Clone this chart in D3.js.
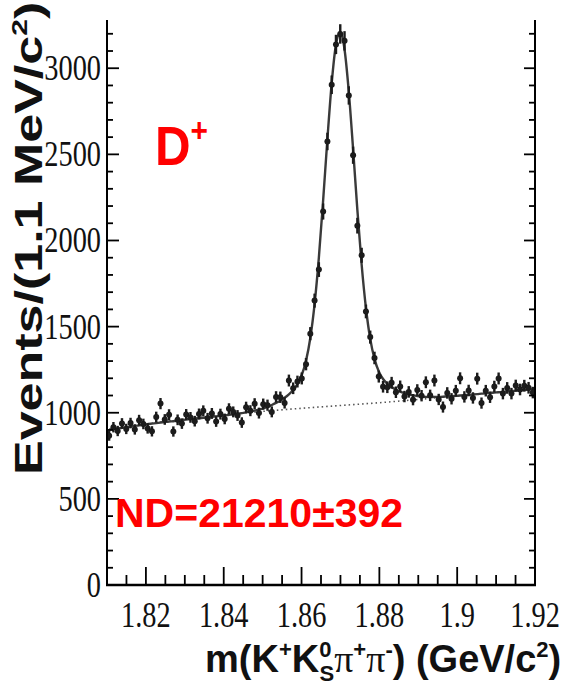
<!DOCTYPE html>
<html>
<head>
<meta charset="utf-8">
<script src="https://cdn.jsdelivr.net/npm/d3@7"></script>
<style>
  body { margin: 0; background: #ffffff; }
  svg { display: block; }
</style>
</head>
<body>
<div id="chart"></div>
<script>
// histogram binning (1.1 MeV bins from 1.81 GeV)
var xLow = 1.81;
var binWidth = 0.0011;

// events per bin
var counts = [
  867, 916, 894, 938, 906, 940, 903, 957, 935, 909,
  892, 975, 1053, 961, 989, 891, 959, 937, 990, 973,
  951, 993, 1011, 968, 996, 949, 992, 964, 1023, 1005,
  984, 943, 1032, 1012, 1052, 998, 1050, 1044, 1005, 1092,
  1090, 1057, 1187, 1142, 1181, 1199, 1282, 1459, 1651, 1831,
  2168, 2575, 2904, 3138, 3199, 3159, 2842, 2495, 2086, 1914,
  1588, 1439, 1318, 1210, 1151, 1148, 1174, 1119, 1153, 1094,
  1121, 1076, 1132, 1099, 1177, 1101, 1187, 1077, 1033, 1115,
  1081, 1128, 1200, 1092, 1129, 1086, 1198, 1056, 1128, 1090,
  1152, 1199, 1111, 1144, 1111, 1158, 1135, 1157, 1145, 1117
];

// total fit value at each bin centre
var fitTotal = [
  902, 906, 909, 913, 916, 920, 923, 927, 930, 934,
  937, 940, 943, 946, 949, 951, 954, 957, 960, 963,
  966, 968, 971, 973, 976, 979, 982, 984, 988, 990,
  994, 998, 1002, 1007, 1012, 1018, 1025, 1034, 1045, 1057,
  1070, 1087, 1107, 1132, 1166, 1219, 1302, 1434, 1631, 1901,
  2233, 2590, 2914, 3138, 3209, 3109, 2862, 2530, 2176, 1859,
  1608, 1429, 1313, 1240, 1196, 1168, 1149, 1134, 1123, 1114,
  1106, 1101, 1097, 1094, 1092, 1091, 1092, 1092, 1093, 1095,
  1096, 1098, 1100, 1102, 1104, 1106, 1108, 1111, 1113, 1115,
  1117, 1119, 1121, 1124, 1126, 1128, 1130, 1132, 1135, 1137
];

// background component (dotted)
var bgMass = [1.81, 1.82, 1.83, 1.84, 1.85, 1.86, 1.87, 1.88, 1.89, 1.90, 1.91, 1.92];
var bgValue = [900, 935, 963, 988, 1008, 1026, 1042, 1058, 1077, 1098, 1118, 1138];

// axis ticks
var xTickValues = [1.82, 1.84, 1.86, 1.88, 1.90, 1.92];
var xTickLabels = ["1.82", "1.84", "1.86", "1.88", "1.9", "1.92"];
var yTickValues = [0, 500, 1000, 1500, 2000, 2500, 3000];

document.addEventListener("DOMContentLoaded", function() {
    var width = 563, height = 692;
    var left = 107, right = 535, top = 20, bottom = 585;

    var svg = d3.select("#chart").append("svg")
        .attr("width", width)
        .attr("height", height);

    // soft blur so the points look like the scanned plot
    var defs = svg.append("defs");
    defs.append("filter").attr("id", "soft")
        .append("feGaussianBlur").attr("stdDeviation", 0.7);

    var x = d3.scaleLinear().domain([1.81, 1.92]).range([left, right]);
    var y = d3.scaleLinear().domain([0, 3280]).range([bottom, top]);

    var bins = counts.map(function(c, i) {
        return { x: xLow + binWidth * (i + 0.5), n: c, fit: fitTotal[i] };
    });

    // background - dotted
    var bg = bgMass.map(function(m, i) { return { x: m, v: bgValue[i] }; });
    svg.append("path")
        .datum(bg)
        .attr("d", d3.line().x(function(d) { return x(d.x); }).y(function(d) { return y(d.v); }))
        .style("fill", "none")
        .style("stroke", "#555")
        .style("stroke-width", 1.6)
        .style("stroke-dasharray", "1.5,3");

    // fit curve
    svg.append("path")
        .datum(bins)
        .attr("d", d3.line()
            .curve(d3.curveMonotoneX)
            .x(function(d) { return x(d.x); })
            .y(function(d) { return y(d.fit); }))
        .style("fill", "none")
        .style("stroke", "#3a3a3a")
        .style("stroke-width", 2.4);

    // data points with error bars
    var pts = svg.append("g").attr("class", "points").attr("filter", "url(#soft)");
    pts.selectAll(".ev")
        .data(bins)
        .enter()
        .append("line")
        .attr("x1", function(d) { return x(d.x); })
        .attr("x2", function(d) { return x(d.x); })
        .attr("y1", function(d) { return y(d.n - Math.sqrt(d.n)); })
        .attr("y2", function(d) { return y(d.n + Math.sqrt(d.n)); })
        .style("stroke", "#1a1a1a")
        .style("stroke-width", 2.4);
    pts.selectAll(".eh")
        .data(bins)
        .enter()
        .append("line")
        .attr("x1", function(d) { return x(d.x - binWidth / 2); })
        .attr("x2", function(d) { return x(d.x + binWidth / 2); })
        .attr("y1", function(d) { return y(d.n); })
        .attr("y2", function(d) { return y(d.n); })
        .style("stroke", "#1a1a1a")
        .style("stroke-width", 2);
    pts.selectAll("circle")
        .data(bins)
        .enter()
        .append("circle")
        .attr("cx", function(d) { return x(d.x); })
        .attr("cy", function(d) { return y(d.n); })
        .attr("r", 3)
        .style("fill", "#1a1a1a");

    // axes lines
    var axisG = svg.append("g").style("stroke", "#000");
    axisG.append("line").attr("x1", left).attr("x2", left).attr("y1", top).attr("y2", bottom + 1).style("stroke-width", 2);
    axisG.append("line").attr("x1", right).attr("x2", right).attr("y1", top).attr("y2", bottom + 1).style("stroke-width", 2);
    axisG.append("line").attr("x1", left - 1).attr("x2", right + 1).attr("y1", bottom).attr("y2", bottom).style("stroke-width", 2.4);

    // y ticks: major every 500, minor every 100 (left and right, pointing in)
    var yMinor = d3.range(0, 3201, 100);
    yMinor.forEach(function(v) {
        var major = v % 500 === 0;
        var len = major ? 12 : 6;
        axisG.append("line").attr("x1", left).attr("x2", left + len)
            .attr("y1", y(v)).attr("y2", y(v)).style("stroke-width", 1.8);
        axisG.append("line").attr("x1", right).attr("x2", right - (major ? 11 : 6))
            .attr("y1", y(v)).attr("y2", y(v)).style("stroke-width", 1.8);
    });

    // x ticks: major every 0.02, minor every 0.005
    var xMinor = d3.range(0, 23).map(function(k) { return 1.81 + 0.005 * k; });
    xMinor.forEach(function(v) {
        var major = xTickValues.some(function(t) { return Math.abs(t - v) < 1e-6; });
        axisG.append("line").attr("x1", x(v)).attr("x2", x(v))
            .attr("y1", bottom).attr("y2", bottom - (major ? 18 : 10))
            .style("stroke-width", 1.8);
    });

    // tick labels (serif, narrow)
    var font = "'Liberation Serif', 'Times New Roman', serif";
    svg.selectAll(".ylab")
        .data(yTickValues)
        .enter()
        .append("text")
        .attr("transform", function(d) { return "translate(101," + (y(d) + 12) + ") scale(0.81,1)"; })
        .attr("text-anchor", "end")
        .style("font-family", font)
        .style("font-size", "35px")
        .style("fill", "#111")
        .text(function(d) { return d; });

    svg.selectAll(".xlab")
        .data(xTickValues)
        .enter()
        .append("text")
        .attr("transform", function(d) { return "translate(" + x(d) + ",627) scale(0.81,1)"; })
        .attr("text-anchor", "middle")
        .style("font-family", font)
        .style("font-size", "35px")
        .style("fill", "#111")
        .text(function(d, i) { return xTickLabels[i]; });

    var sans = "'Liberation Sans', Arial, Helvetica, sans-serif";

    // y axis title
    var yt = svg.append("text")
        .attr("transform", "translate(42,475) rotate(-90) scale(1,0.73)")
        .style("font-family", sans)
        .style("font-weight", "bold")
        .style("font-size", "52px")
        .style("fill", "#111");
    yt.append("tspan").text("Events/(1.1 MeV/c");
    yt.append("tspan").attr("dy", -20).style("font-size", "30px").text("2");
    yt.append("tspan").attr("dy", 20).text(")");

    // x axis title
    var xt = svg.append("text")
        .attr("x", 205)
        .attr("y", 672)
        .style("font-family", sans)
        .style("font-weight", "bold")
        .style("font-size", "38px")
        .style("fill", "#111");
    xt.append("tspan").text("m(K");
    xt.append("tspan").attr("dy", -15).style("font-size", "22px").text("+");
    xt.append("tspan").attr("dy", 15).text("K");
    xt.append("tspan").attr("dy", -15).style("font-size", "22px").text("0");
    xt.append("tspan").attr("dx", -12).attr("dy", 24).style("font-size", "22px").text("S");
    xt.append("tspan").attr("dy", -9).style("font-family", font).style("font-weight", "normal").text("π");
    xt.append("tspan").attr("dy", -15).style("font-size", "22px").text("+");
    xt.append("tspan").attr("dy", 15).style("font-family", font).style("font-weight", "normal").text("π");
    xt.append("tspan").attr("dy", -15).style("font-size", "22px").text("-");
    xt.append("tspan").attr("dy", 15).text(") (GeV/c");
    xt.append("tspan").attr("dy", -15).style("font-size", "22px").text("2");
    xt.append("tspan").attr("dy", 15).text(")");

    // red annotations
    var dp = svg.append("text")
        .attr("transform", "translate(155,165) scale(0.88,1)")
        .style("font-family", sans)
        .style("font-weight", "bold")
        .style("font-size", "56px")
        .style("fill", "#ff0000");
    dp.append("tspan").text("D");
    dp.append("tspan").attr("dy", -23).style("font-size", "34px").text("+");

    svg.append("text")
        .attr("x", 115)
        .attr("y", 527)
        .style("font-family", sans)
        .style("font-weight", "bold")
        .style("font-size", "41px")
        .style("fill", "#ff0000")
        .text("ND=21210±392");
});
</script>
</body>
</html>
